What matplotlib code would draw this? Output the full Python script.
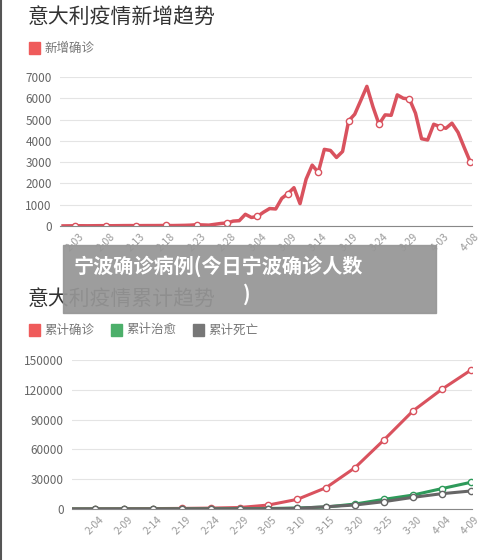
import matplotlib
matplotlib.use("Agg")
import matplotlib.pyplot as plt
from matplotlib.patches import Rectangle

plt.rcParams["font.family"] = ["Noto Sans CJK SC", "DejaVu Sans"]

W, H = 500, 560
RED = "#d9525e"
GREEN = "#2e9a5a"
GRAY = "#666666"
TICK = "#999999"

# daily new cases, 2-01 .. 4-08
new_cases = [5, 8, 10, 12, 10, 12, 15, 15, 12, 15, 18, 20, 15, 18, 20, 20, 22, 25, 20, 25, 30, 40,
             60, 50, 40, 80, 120, 140, 230, 250, 550, 400, 450, 650, 820, 800, 1300, 1520, 1800, 1050,
             2200, 2860, 2520, 3600, 3550, 3220, 3500, 4940, 5250, 5900, 6560, 5600, 4780, 5220, 5200,
             6160, 6000, 5970, 5300, 4100, 4040, 4780, 4670, 4590, 4830, 4400, 3700, 3020]
new_labels = ["2-03", "2-08", "2-13", "2-18", "2-23", "2-28", "3-04", "3-09", "3-14", "3-19",
              "3-24", "3-29", "4-03", "4-08"]
new_first = 2  # index of 2-03

# cumulative, sampled every 5 days (1-31 then 2-04 .. 4-09)
cum_labels = ["2-04", "2-09", "2-14", "2-19", "2-24", "2-29", "3-05", "3-10", "3-15", "3-20",
              "3-25", "3-30", "4-04", "4-09"]
cum_confirmed = [100, 200, 300, 400, 600, 900, 1500, 4000, 9700, 21500, 41600, 69500, 98600, 120400, 139600]
cum_recovered = [0, 0, 0, 0, 50, 100, 200, 500, 1000, 2000, 5000, 9700, 14000, 20500, 26800]
cum_deaths = [0, 0, 0, 0, 20, 50, 100, 200, 700, 2300, 4000, 7400, 11700, 15400, 18100]

fig = plt.figure(figsize=(W / 100, H / 100), dpi=100)


def px_axes(x0, y0, x1, y1):
    return fig.add_axes([x0 / W, 1 - y1 / H, (x1 - x0) / W, (y1 - y0) / H])


def style(ax, ymax, step):
    ax.set_ylim(0, ymax)
    ax.set_yticks(range(0, ymax + 1, step))
    ax.grid(axis="y", color="#e4e4e4", linewidth=0.8)
    ax.set_axisbelow(True)
    for s in ("top", "right", "left"):
        ax.spines[s].set_visible(False)
    ax.spines["bottom"].set_color("#888888")
    ax.tick_params(axis="y", length=0, labelsize=8.5, labelcolor="#666666", pad=6)
    ax.tick_params(axis="x", length=0, labelsize=7.5, labelcolor=TICK, labelrotation=45, pad=4)
    for t in ax.get_xticklabels():
        t.set_ha("center")


mk = dict(marker="o", markersize=4.5, markerfacecolor="white", markeredgewidth=1, linestyle="none")

# top chart
ax1 = px_axes(60, 77, 472, 226)
days = list(range(len(new_cases)))
ax1.plot(days, new_cases, color=RED, linewidth=2.5, solid_joinstyle="round")
mdays = days[new_first::5]
ax1.plot(mdays, [new_cases[d] for d in mdays], color=RED, **mk)
ax1.set_xlim(-0.5, len(new_cases) - 0.7)
ax1.set_xticks(mdays)
ax1.set_xticklabels(new_labels)
style(ax1, 7000, 1000)

# bottom chart
ax2 = px_axes(72, 360, 472, 509)
xs = list(range(-1, len(cum_labels)))
for vals, col in ((cum_confirmed, RED), (cum_recovered, GREEN), (cum_deaths, GRAY)):
    ax2.plot(xs, vals, color=col, linewidth=2.2)
    ax2.plot(xs[1:], vals[1:], color=col, **mk)
ax2.set_xlim(-0.8, len(cum_labels) - 0.95)
ax2.set_xticks(range(len(cum_labels)))
ax2.set_xticklabels(cum_labels)
style(ax2, 150000, 30000)

# titles and legends
fig.text(28 / W, 1 - 18 / H, "意大利疫情新增趋势", fontsize=15, color="#333333", va="center")
fig.patches.append(Rectangle((29 / W, 1 - 54 / H), 11 / W, 12 / H, transform=fig.transFigure,
                             color="#ef5b5b", figure=fig))
fig.text(44 / W, 1 - 48 / H, "新增确诊", fontsize=9, color="#777777", va="center")

fig.text(28 / W, 1 - 300 / H, "意大利疫情累计趋势", fontsize=15, color="#333333", va="center")
for lx, lab, col in ((29, "累计确诊", "#ef5b5b"), (111, "累计治愈", "#4caf6a"), (193, "累计死亡", "#777777")):
    fig.patches.append(Rectangle((lx / W, 1 - 336 / H), 11 / W, 12 / H, transform=fig.transFigure,
                                 color=col, figure=fig))
    fig.text((lx + 15) / W, 1 - 330 / H, lab, fontsize=9, color="#777777", va="center")

# gray banner overlay
fig.patches.append(Rectangle((63 / W, 1 - 313 / H), 373 / W, 68 / H, transform=fig.transFigure,
                             color="#969696", alpha=0.93, figure=fig, zorder=10))
fig.text(74 / W, 1 - 266 / H, "宁波确诊病例(今日宁波确诊人数", fontsize=14.5, fontweight="bold",
         color="white", va="center", zorder=11)
fig.text(243 / W, 1 - 294 / H, ")", fontsize=14.5, fontweight="bold", color="white",
         va="center", zorder=11)

fig.add_artist(plt.Line2D([1 / W, 1 / W], [0, 1], color="#555555", linewidth=1.5))

fig.savefig("out.png", dpi=100)
